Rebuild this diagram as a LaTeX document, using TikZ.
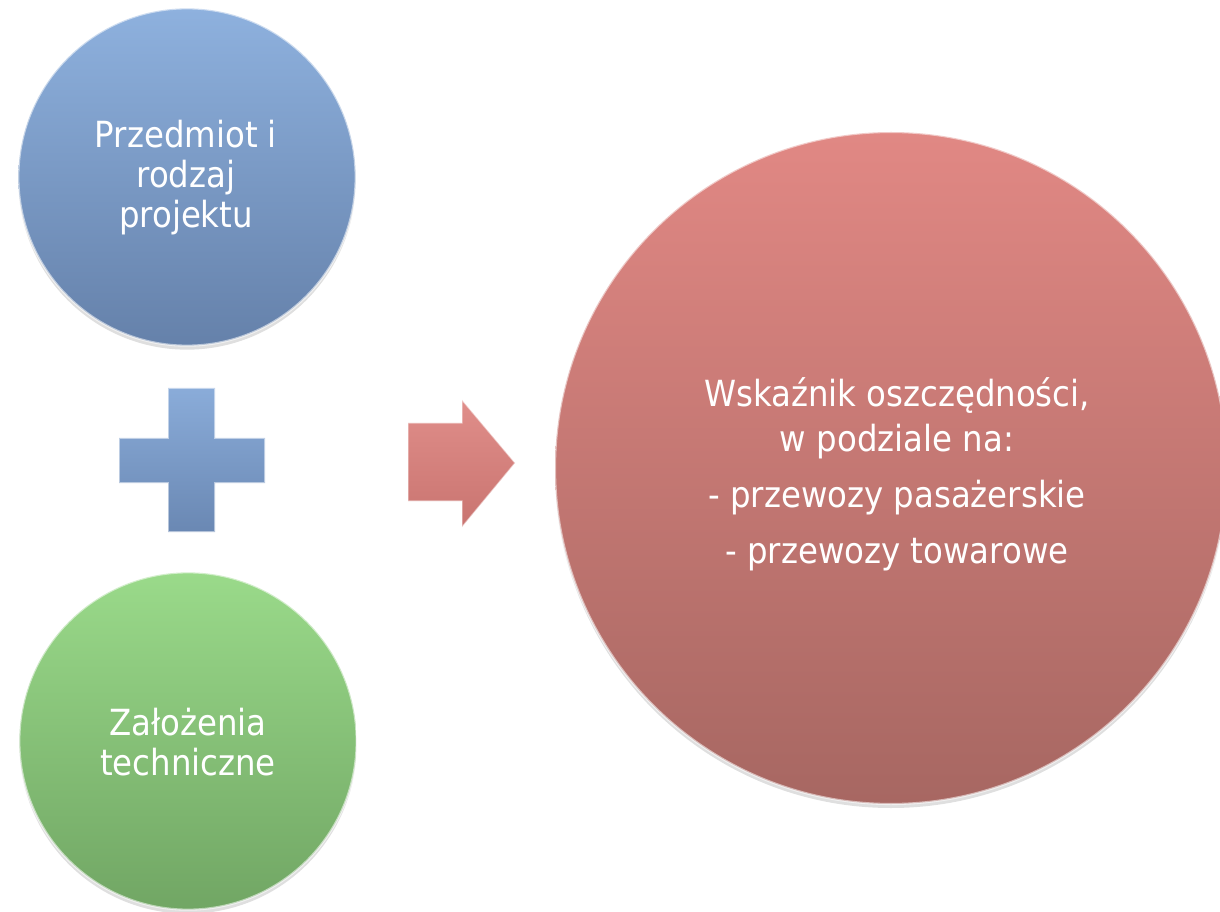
\documentclass[tikz,border=0pt]{standalone}
\usepackage{fontspec}
\setmainfont{DejaVu Sans Condensed}
\usetikzlibrary{shadows}
\definecolor{blueT}{HTML}{8EB1DE}
\definecolor{blueB}{HTML}{6581AA}
\definecolor{greenT}{HTML}{9ADA8A}
\definecolor{greenB}{HTML}{71A664}
\definecolor{redT}{HTML}{E18884}
\definecolor{redB}{HTML}{A76762}
\definecolor{plusT}{HTML}{8AACD9}
\definecolor{plusB}{HTML}{6A88B3}
\definecolor{arrT}{HTML}{E08E8A}
\definecolor{arrB}{HTML}{C97470}
\begin{document}
\begin{tikzpicture}[x=0.75pt,y=-0.75pt]
\tikzset{
  ball/.style={circle, draw=white, draw opacity=0.55, line width=1.6pt, inner sep=0pt,
    drop shadow={shadow xshift=0pt, shadow yshift=-3pt, opacity=0.25}},
  label/.style={text=white, align=center, font=\fontsize{27}{30}\selectfont},
  glyph/.style={draw=white, draw opacity=0.5, line width=1pt, line join=miter}
}
\useasboundingbox (0,0) rectangle (1220,912);
\node[ball, minimum size=253pt, top color=blueT, bottom color=blueB] (proj) at (187,177) {};
\node[ball, minimum size=253pt, top color=greenT, bottom color=greenB] (tech) at (188,741) {};
\node[ball, minimum size=504pt, top color=redT, bottom color=redB] (wsk) at (891,468) {};
\node[label] (projt) at (186,178) {Przedmiot i\\rodzaj\\projektu};
\node[label] (techt) at (188,742) {Założenia\\techniczne};
\node[label, font=\fontsize{27}{34}\selectfont] (wskt) at (897,474) {Wskaźnik oszczędności,\\w podziale na:\\[8pt]- przewozy pasażerskie\\[8pt]- przewozy towarowe};
% plus sign
\path[glyph, top color=plusT, bottom color=plusB]
  (168,388) -- (215,388) -- (215,438) -- (265,438) -- (265,483) -- (215,483)
  -- (215,532) -- (168,532) -- (168,483) -- (119,483) -- (119,438) -- (168,438) -- cycle;
% arrow
\path[glyph, top color=arrT, bottom color=arrB]
  (408,423) -- (462,423) -- (462,400) -- (515,463) -- (462,527) -- (462,501) -- (408,501) -- cycle;
\end{tikzpicture}
\end{document}
